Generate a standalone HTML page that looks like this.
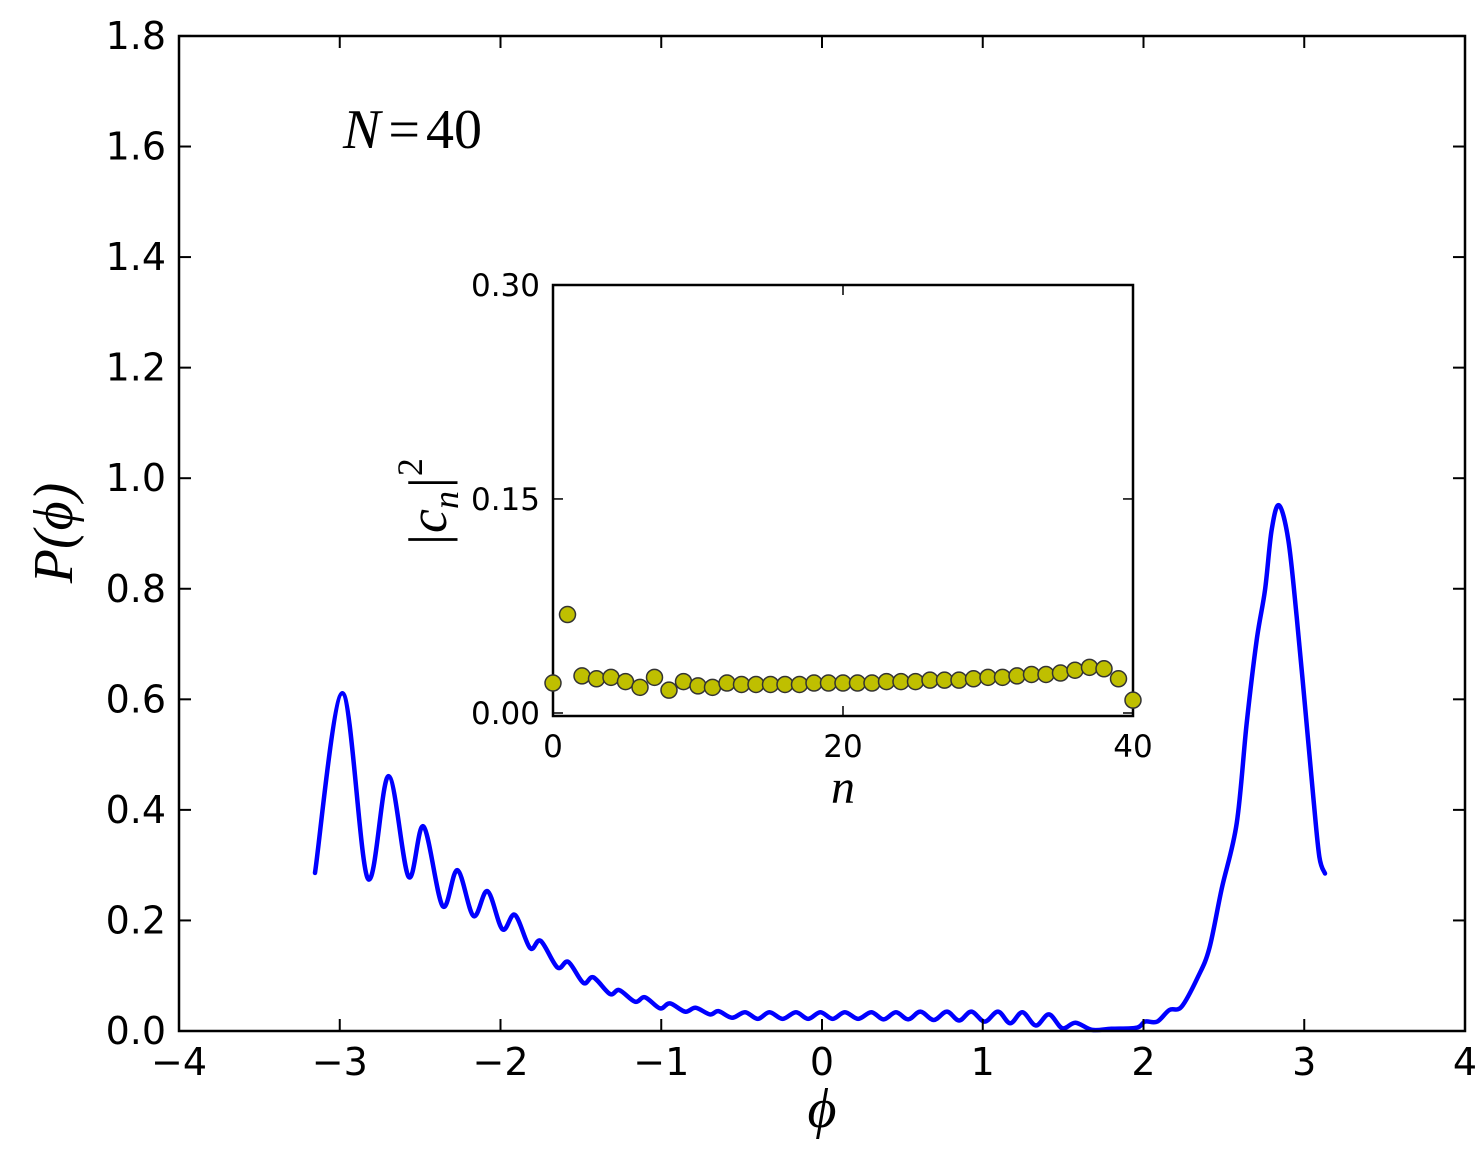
<!DOCTYPE html>
<html><head><meta charset="utf-8"><style>
html,body{margin:0;padding:0;background:#fff;}
svg{display:block;}
text{font-family:"DejaVu Sans","Liberation Sans",sans-serif;fill:#000;}
.m{font-family:"Liberation Serif","DejaVu Serif",serif;font-style:italic;}
</style></head><body>
<svg id="chart" width="1484" height="1154" viewBox="0 0 1484 1154" xmlns="http://www.w3.org/2000/svg"></svg>
<script>
const phiVals=[-3.154,-2.983,-2.826,-2.697,-2.572,-2.479,-2.36,-2.268,-2.168,-2.081,-1.988,-1.91,-1.816,-1.75,-1.646,-1.578,-1.484,-1.422,-1.319,-1.261,-1.163,-1.101,-1.008,-0.946,-0.852,-0.786,-0.697,-0.644,-0.56,-0.479,-0.40,-0.327,-0.245,-0.162,-0.086,-0.010,0.066,0.142,0.225,0.307,0.383,0.460,0.536,0.612,0.695,0.777,0.853,0.929,1.012,1.095,1.171,1.247,1.33,1.412,1.495,1.577,1.68,1.80,1.958,2.009,2.085,2.161,2.237,2.339,2.41,2.487,2.580,2.642,2.704,2.756,2.797,2.843,2.901,2.953,3.005,3.056,3.094,3.129];
const pVals=[0.286,0.611,0.276,0.461,0.279,0.370,0.226,0.291,0.208,0.253,0.184,0.21,0.150,0.163,0.115,0.125,0.087,0.097,0.067,0.074,0.053,0.061,0.041,0.050,0.035,0.042,0.030,0.036,0.024,0.034,0.022,0.034,0.022,0.034,0.022,0.034,0.022,0.034,0.022,0.034,0.021,0.034,0.021,0.035,0.020,0.035,0.019,0.035,0.017,0.035,0.014,0.034,0.010,0.030,0.005,0.015,0.002,0.004,0.006,0.017,0.017,0.038,0.044,0.098,0.15,0.258,0.376,0.557,0.707,0.798,0.906,0.951,0.888,0.749,0.587,0.424,0.315,0.285];
const xTicks=[-4,-3,-2,-1,0,1,2,3,4];
const yTicks=[0.0,0.2,0.4,0.6,0.8,1.0,1.2,1.4,1.6,1.8];
const nVals=[0,1,2,3,4,5,6,7,8,9,10,11,12,13,14,15,16,17,18,19,20,21,22,23,24,25,26,27,28,29,30,31,32,33,34,35,36,37,38,39,40];
const cVals=[0.021,0.069,0.026,0.024,0.025,0.022,0.018,0.025,0.016,0.022,0.019,0.018,0.021,0.020,0.020,0.020,0.020,0.020,0.021,0.021,0.021,0.021,0.021,0.022,0.022,0.022,0.023,0.023,0.023,0.024,0.025,0.025,0.026,0.027,0.027,0.028,0.030,0.032,0.031,0.024,0.009];
const inXTicks=[0,20,40];
const inYTicks=[0.00,0.15,0.30];

const S=document.getElementById('chart');const NS='http://www.w3.org/2000/svg';
function mk(t,a,p){const e=document.createElementNS(NS,t);for(const k in a)e.setAttribute(k,a[k]);(p||S).appendChild(e);return e;}
const X=v=>179+(v+4)*160.75, Y=v=>1031-v*552.8;
const IX=v=>553+v*14.5, IY=v=>713-v*1427;

let pts=phiVals.map((p,i)=>[X(p),Y(pVals[i])]);
let d='M'+pts[0][0]+','+pts[0][1];
for(let i=0;i<pts.length-1;i++){const p0=pts[Math.max(0,i-1)],p1=pts[i],p2=pts[i+1],p3=pts[Math.min(pts.length-1,i+2)];
d+=' C'+(p1[0]+(p2[0]-p0[0])/6)+','+(p1[1]+(p2[1]-p0[1])/6)+' '+(p2[0]-(p3[0]-p1[0])/6)+','+(p2[1]-(p3[1]-p1[1])/6)+' '+p2[0]+','+p2[1];}
const line=mk('path',{d:d,fill:'none',stroke:'#0000ff','stroke-width':4.5,'stroke-linejoin':'round','stroke-linecap':'round'});



const fr=mk('rect',{x:179,y:36,width:1286,height:995,fill:'none',stroke:'#000','stroke-width':2.5});


xTicks.forEach(v=>{const x=X(v);
mk('line',{x1:x,y1:1031,x2:x,y2:1019,stroke:'#000','stroke-width':2});
mk('line',{x1:x,y1:36,x2:x,y2:48,stroke:'#000','stroke-width':2});
const t=mk('text',{x:x,y:1075,'text-anchor':'middle','font-size':38});t.textContent=(v<0?'\u2212'+(-v):v);

});
yTicks.forEach(v=>{const y=Y(v);
mk('line',{x1:179,y1:y,x2:191,y2:y,stroke:'#000','stroke-width':2});
mk('line',{x1:1465,y1:y,x2:1453,y2:y,stroke:'#000','stroke-width':2});
const t=mk('text',{x:166,y:y+13,'text-anchor':'end','font-size':38});t.textContent=v.toFixed(1);

});
let t=mk('text',{x:822,y:1127,'text-anchor':'middle','font-size':56,class:'m'});t.textContent='\u03d5';


t=mk('text',{x:0,y:0,'text-anchor':'middle','font-size':56,class:'m',transform:'translate(72,533) rotate(-90)'});t.textContent='P(\u03d5)';


t=mk('text',{x:343,y:148,'font-size':56,class:'m'});t.innerHTML='N<tspan font-style="normal" dx="8">=</tspan><tspan font-style="normal" dx="6">40</tspan>';



const ib=mk('rect',{x:553,y:285,width:580,height:431,fill:'#fff',stroke:'#000','stroke-width':2.5});


inXTicks.forEach(v=>{const x=IX(v);
mk('line',{x1:x,y1:716,x2:x,y2:706,stroke:'#000','stroke-width':1.5});
mk('line',{x1:x,y1:285,x2:x,y2:295,stroke:'#000','stroke-width':1.5});
const tt=mk('text',{x:x,y:757,'text-anchor':'middle','font-size':31});tt.textContent=v;

});
inYTicks.forEach(v=>{const y=IY(v);
mk('line',{x1:553,y1:y,x2:563,y2:y,stroke:'#000','stroke-width':1.5});
mk('line',{x1:1133,y1:y,x2:1123,y2:y,stroke:'#000','stroke-width':1.5});
const tt=mk('text',{x:540,y:y+11,'text-anchor':'end','font-size':31});tt.textContent=v.toFixed(2);

});
nVals.forEach((n,i)=>{const c=mk('circle',{cx:IX(n),cy:IY(cVals[i]),r:8,fill:'#bfbf00',stroke:'#333','stroke-width':1.5});

});
t=mk('text',{x:843,y:803,'text-anchor':'middle','font-size':48,class:'m'});t.textContent='n';


t=mk('text',{x:0,y:0,'text-anchor':'middle','font-size':54,class:'m',transform:'translate(446,503) rotate(-90)'});
t.innerHTML='|c<tspan font-size="36" dy="12">n</tspan><tspan dy="-12">|</tspan><tspan font-size="36" font-style="normal" dy="-24">2</tspan>';


</script>
</body></html>
